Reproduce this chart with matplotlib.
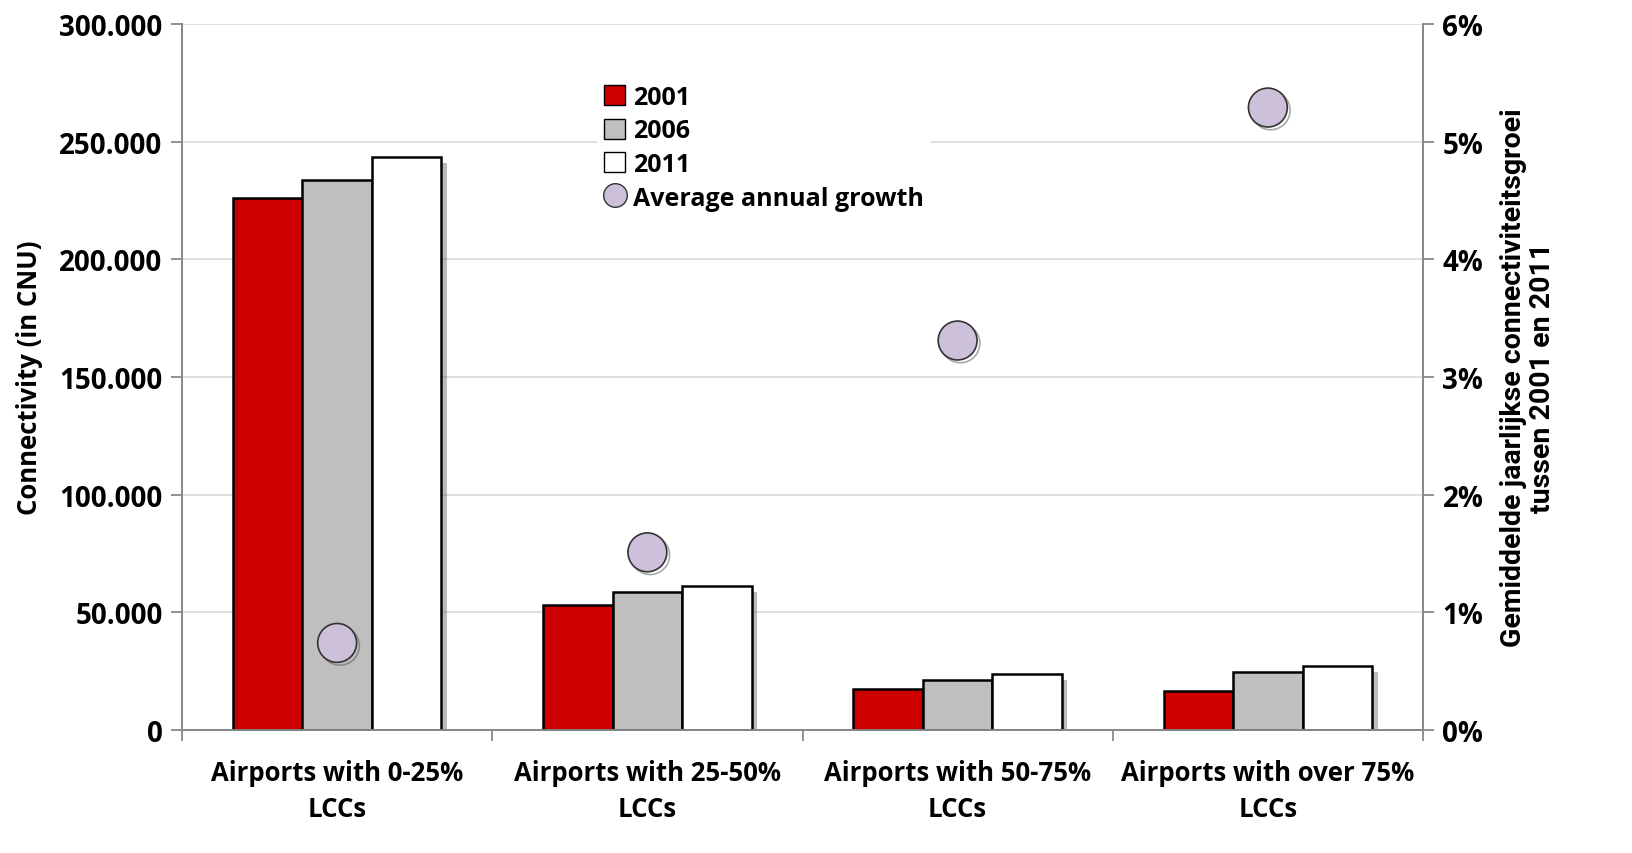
import numpy as np
import matplotlib.pyplot as plt
from matplotlib import patheffects as pe
from matplotlib.ticker import FuncFormatter, MultipleLocator
from matplotlib.lines import Line2D
from matplotlib.patches import Patch

# Data
categories = ['Airports with 0-25%\nLCCs', 'Airports with 25-50%\nLCCs',
              'Airports with 50-75%\nLCCs', 'Airports with over 75%\nLCCs']
conn_2001 = [226000, 53000, 17400, 16500]
conn_2006 = [233800, 58600, 21200, 24700]
conn_2011 = [243500, 61200, 23800, 27200]
growth = [0.74, 1.51, 3.31, 5.29]  # percent

plt.rcParams['font.family'] = ['Open Sans', 'DejaVu Sans']
plt.rcParams['font.weight'] = 'bold'

fig = plt.figure(figsize=(16.32, 8.54), dpi=100)
ax = fig.add_axes([182/1632, 1-731/854, 1241/1632, 706/854])
ax2 = ax.twinx()

x = np.arange(len(categories))
w = 0.224
shadow = [pe.SimplePatchShadow(offset=(4, -4), shadow_rgbFace='#555555', alpha=0.4), pe.Normal()]

series = [(conn_2001, '#CC0000', '2001'), (conn_2006, '#BFBFBF', '2006'), (conn_2011, '#FFFFFF', '2011')]
for i, (vals, col, lab) in enumerate(series):
    bars = ax.bar(x + (i - 1) * w, vals, w, color=col, edgecolor='black', linewidth=1.8, zorder=3)
    for b in bars:
        b.set_path_effects(shadow)

ax.set_xlim(-0.5, 3.5)
ax.set_ylim(0, 300000)
ax.yaxis.set_major_locator(MultipleLocator(50000))
ax.yaxis.set_major_formatter(FuncFormatter(lambda v, p: '0' if v == 0 else f'{int(v):,}'.replace(',', '.')))
ax.grid(axis='y', color='#D9D9D9', linewidth=1.2, zorder=0)
ax.set_axisbelow(True)

ax.set_xticks(np.arange(-0.5, 4, 1))
ax.set_xticklabels([])
ax.set_xticks(x, minor=True)
ax.set_xticklabels(categories, minor=True, fontsize=18.5, fontweight='bold', linespacing=1.4)
ax.tick_params(axis='x', which='minor', length=0, pad=21)
ax.tick_params(axis='x', which='major', length=8, direction='out', color='#888888', width=1.3)
ax.tick_params(axis='y', length=8, direction='out', color='#888888', width=1.3, labelsize=20, pad=6)
ax.set_ylabel('Connectivity (in CNU)', fontsize=18.5, fontweight='bold', labelpad=12)

for a in (ax, ax2):
    a.spines['top'].set_visible(False)
    for s in ('left', 'right', 'bottom'):
        a.spines[s].set_color('#888888')
        a.spines[s].set_linewidth(1.3)

ax2.set_ylim(0, 6)
ax2.yaxis.set_major_locator(MultipleLocator(1))
ax2.yaxis.set_major_formatter(FuncFormatter(lambda v, p: f'{int(v)}%'))
ax2.tick_params(axis='y', length=8, direction='out', color='#888888', width=1.3, labelsize=20, pad=6)
ax2.plot(x, growth, linestyle='none', marker='o', markersize=28, markerfacecolor='#CCC0DA',
         markeredgecolor='#333333', markeredgewidth=1.2, zorder=5,
         path_effects=[pe.SimpleLineShadow(offset=(2, -2), shadow_color='#555555', alpha=0.5), pe.Normal()])
ax2.set_ylabel('Gemiddelde jaarlijkse connectiviteitsgroei\ntussen 2001 en 2011',
               family=['Roboto', 'DejaVu Sans'], fontsize=20.5, fontweight='bold',
               rotation=90, labelpad=12, linespacing=1.1, ha='center')

handles = [Patch(facecolor='#CC0000', edgecolor='black'),
           Patch(facecolor='#BFBFBF', edgecolor='black'),
           Patch(facecolor='#FFFFFF', edgecolor='black'),
           Line2D([], [], linestyle='none', marker='o', markersize=17, markerfacecolor='#CCC0DA',
                  markeredgecolor='#333333')]
leg = ax2.legend(handles, ['2001', '2006', '2011', 'Average annual growth'],
                 loc='upper left', bbox_to_anchor=(584/1632, 1-66/854), bbox_transform=fig.transFigure,
                 frameon=True, edgecolor='none', facecolor='white', framealpha=1, fancybox=False,
                 prop={'size': 18, 'weight': 'bold'}, handlelength=0.85, handleheight=0.85,
                 handletextpad=0.3, labelspacing=0.34, borderpad=0.3)

fig.savefig('out.png', dpi=100)
